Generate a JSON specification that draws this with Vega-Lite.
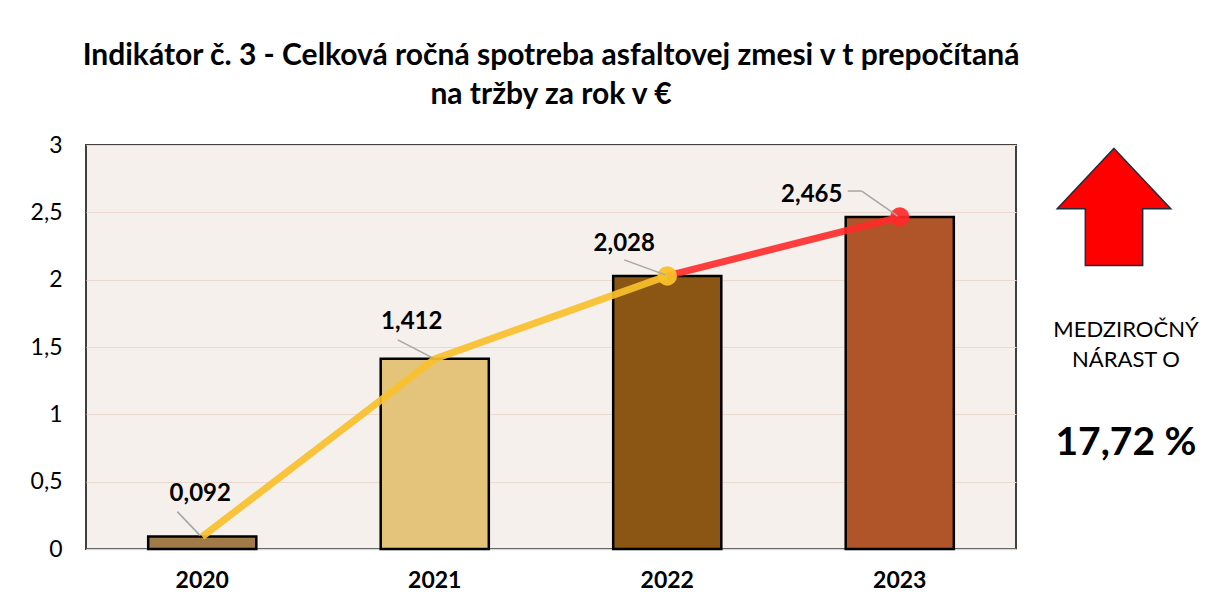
{
  "$schema": "https://vega.github.io/schema/vega-lite/v6.json",
  "background": "white",
  "padding": {"left": 29, "top": 40, "right": 0, "bottom": 0},
  "config": {"font": "Lato", "view": {"stroke": null}, "concat": {"spacing": 20}},
  "datasets": {
    "main": [
      {"year": 2020, "value": 0.092, "label": "0,092"},
      {"year": 2021, "value": 1.412, "label": "1,412"},
      {"year": 2022, "value": 2.028, "label": "2,028"},
      {"year": 2023, "value": 2.465, "label": "2,465"}
    ],
    "side": [{"l1": "MEDZIROČNÝ", "l2": "NÁRAST O", "pct": "17,72 %"}]
  },
  "hconcat": [
    {
      "width": 930,
      "height": 404,
      "title": {
        "text": ["Indikátor č. 3 - Celková ročná spotreba asfaltovej zmesi v t prepočítaná", "na tržby za rok v €"],
        "fontSize": 30, "fontWeight": "bold", "anchor": "middle", "lineHeight": 39, "offset": 24, "color": "black"
      },
      "view": {"fill": "#F5F0EC", "stroke": "#404040", "strokeWidth": 2},
      "data": {"name": "main"},
      "encoding": {
        "x": {
          "field": "year", "type": "ordinal",
          "scale": {"paddingInner": 0.535, "paddingOuter": 0.2675},
          "axis": {"title": null, "labelAngle": 0, "labelFontSize": 23, "labelFontWeight": "bold", "labelColor": "black", "labelPadding": 20, "ticks": false, "domainColor": "#D9D9D9", "domainWidth": 1.5}
        },
        "y": {
          "field": "value", "type": "quantitative",
          "scale": {"domain": [0, 3], "nice": false},
          "axis": {"title": null, "values": [0, 0.5, 1, 1.5, 2, 2.5, 3], "labelExpr": "replace(toString(datum.value), '.', ',')", "labelFontSize": 23, "labelColor": "black", "labelPadding": 24, "ticks": false, "domain": false, "grid": true, "gridColor": "#EBD8CE", "gridWidth": 1.2}
        }
      },
      "layer": [
        {
          "mark": {"type": "bar", "stroke": "black", "strokeWidth": 2.5},
          "encoding": {
            "color": {"field": "year", "type": "nominal", "scale": {"domain": [2020, 2021, 2022, 2023], "range": ["#A07A48", "#E4C47A", "#8B5513", "#B0552A"]}, "legend": null}
          }
        },
        {
          "transform": [{"filter": "datum.year <= 2022"}],
          "mark": {"type": "line", "color": "#F9C02B", "strokeWidth": 7, "opacity": 0.92},
          "encoding": {}
        },
        {
          "transform": [{"filter": "datum.year >= 2022"}],
          "mark": {"type": "line", "color": "#FF2A2A", "strokeWidth": 7, "opacity": 0.9},
          "encoding": {}
        },
        {
          "transform": [{"filter": "datum.year == 2022"}],
          "mark": {"type": "point", "filled": true, "color": "#F9C02B", "size": 380, "opacity": 0.95}
        },
        {
          "transform": [{"filter": "datum.year == 2023"}],
          "mark": {"type": "point", "filled": true, "color": "#FF2A2A", "size": 380, "opacity": 0.92}
        },
        {
          "transform": [{"filter": "datum.year == 2020"}],
          "mark": {"type": "rule", "color": "#A6A6A6", "strokeWidth": 1.5, "xOffset": -25, "yOffset": -25, "x2Offset": -2, "y2Offset": -1},
          "encoding": {"x2": {"field": "year"}, "y2": {"field": "value"}}
        },
        {
          "transform": [{"filter": "datum.year == 2021"}],
          "mark": {"type": "rule", "color": "#A6A6A6", "strokeWidth": 1.5, "xOffset": -37, "yOffset": -19, "x2Offset": -2, "y2Offset": -1},
          "encoding": {"x2": {"field": "year"}, "y2": {"field": "value"}}
        },
        {
          "transform": [{"filter": "datum.year == 2022"}],
          "mark": {"type": "rule", "color": "#A6A6A6", "strokeWidth": 1.5, "xOffset": -43, "yOffset": -16, "x2Offset": -2, "y2Offset": -1},
          "encoding": {"x2": {"field": "year"}, "y2": {"field": "value"}}
        },
        {
          "transform": [{"filter": "datum.year == 2023"}],
          "mark": {"type": "rule", "color": "#A6A6A6", "strokeWidth": 1.5, "xOffset": -52, "yOffset": -26, "x2Offset": -38, "y2Offset": -26},
          "encoding": {"x2": {"field": "year"}, "y2": {"field": "value"}}
        },
        {
          "transform": [{"filter": "datum.year == 2023"}],
          "mark": {"type": "rule", "color": "#A6A6A6", "strokeWidth": 1.5, "xOffset": -38, "yOffset": -26, "x2Offset": -2, "y2Offset": -1},
          "encoding": {"x2": {"field": "year"}, "y2": {"field": "value"}}
        },
        {
          "transform": [{"filter": "datum.year == 2020"}],
          "mark": {"type": "text", "fontSize": 24, "fontWeight": "bold", "color": "black", "dx": -2, "dy": -43},
          "encoding": {"text": {"field": "label"}}
        },
        {
          "transform": [{"filter": "datum.year == 2021"}],
          "mark": {"type": "text", "fontSize": 24, "fontWeight": "bold", "color": "black", "dx": -23, "dy": -37},
          "encoding": {"text": {"field": "label"}}
        },
        {
          "transform": [{"filter": "datum.year == 2022"}],
          "mark": {"type": "text", "fontSize": 24, "fontWeight": "bold", "color": "black", "dx": -43, "dy": -32},
          "encoding": {"text": {"field": "label"}}
        },
        {
          "transform": [{"filter": "datum.year == 2023"}],
          "mark": {"type": "text", "fontSize": 24, "fontWeight": "bold", "color": "black", "dx": -88, "dy": -22},
          "encoding": {"text": {"field": "label"}}
        }
      ]
    },
    {
      "width": 180,
      "height": 404,
      "view": {"stroke": null},
      "data": {"name": "side"},
      "layer": [
        {
          "mark": {"type": "point", "shape": "M0,-1 L0.97,0.03 L0.49,0.03 L0.49,1 L-0.49,1 L-0.49,0.03 L-0.97,0.03 Z", "size": 13700, "filled": true, "fill": "#FF0000", "stroke": "#1F2D3D", "strokeWidth": 1.5, "opacity": 1, "xOffset": -18},
          "encoding": {"y": {"datum": 2.54, "type": "quantitative", "scale": {"domain": [0, 3], "nice": false}, "axis": null}}
        },
        {
          "mark": {"type": "text", "fontSize": 22, "color": "black", "dx": -6},
          "encoding": {"y": {"datum": 1.626, "type": "quantitative"}, "text": {"field": "l1"}}
        },
        {
          "mark": {"type": "text", "fontSize": 22, "color": "black", "dx": -6},
          "encoding": {"y": {"datum": 1.4, "type": "quantitative"}, "text": {"field": "l2"}}
        },
        {
          "mark": {"type": "text", "fontSize": 39, "fontWeight": "bold", "color": "black", "dx": -6},
          "encoding": {"y": {"datum": 0.79, "type": "quantitative"}, "text": {"field": "pct"}}
        }
      ]
    }
  ]
}
